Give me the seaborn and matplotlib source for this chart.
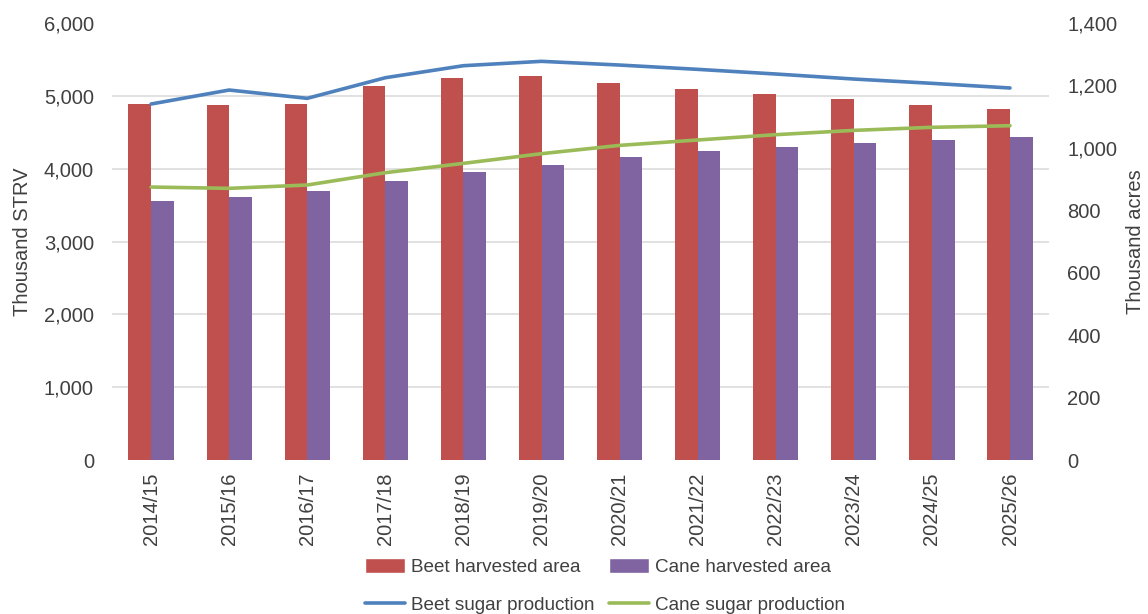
import numpy as np
import pandas as pd
import matplotlib
matplotlib.use("Agg")
import matplotlib.pyplot as plt
from matplotlib.lines import Line2D
from matplotlib.patches import Patch
from matplotlib.ticker import FuncFormatter, MultipleLocator
import seaborn as sns

seasons = ["2014/15", "2015/16", "2016/17", "2017/18", "2018/19", "2019/20",
           "2020/21", "2021/22", "2022/23", "2023/24", "2024/25", "2025/26"]

# Harvested area, thousand acres (right axis)
beet_area = [1141, 1137, 1142, 1199, 1225, 1229, 1208, 1190, 1173, 1156, 1138, 1126]
cane_area = [829, 842, 863, 894, 924, 946, 972, 989, 1003, 1016, 1024, 1034]

# Sugar production, thousand STRV (left axis)
beet_prod = [4888, 5080, 4966, 5249, 5414, 5474, 5423, 5364, 5300, 5231, 5172, 5108]
cane_prod = [3748, 3730, 3776, 3945, 4073, 4206, 4320, 4394, 4467, 4526, 4568, 4590]

RED, PURPLE = "#C0504D", "#8064A2"
BLUE, GREEN = "#4F81BD", "#9BBB59"
TEXT = "#404040"
GRID = "#D9D9D9"
FS = 14.5

sns.set_theme(style="white")
plt.rcParams["font.family"] = ["Liberation Sans", "DejaVu Sans"]
plt.rcParams["text.color"] = TEXT
plt.rcParams["axes.labelcolor"] = TEXT
plt.rcParams["xtick.color"] = TEXT
plt.rcParams["ytick.color"] = TEXT

area_df = pd.DataFrame({
    "Season": seasons * 2,
    "Area": beet_area + cane_area,
    "Series": ["Beet harvested area"] * len(seasons) + ["Cane harvested area"] * len(seasons),
})
prod_df = pd.DataFrame({
    "Season": seasons * 2,
    "Production": beet_prod + cane_prod,
    "Series": ["Beet sugar production"] * len(seasons) + ["Cane sugar production"] * len(seasons),
})

fig = plt.figure(figsize=(11.48, 6.14), dpi=100)
ax_line = fig.add_axes([0.0976, 0.2508, 0.8162, 0.7117])
ax_bar = ax_line.twinx()

# bars on the acres axis, kept behind the production lines
ax_line.set_zorder(2)
ax_line.patch.set_visible(False)

sns.barplot(data=area_df, x="Season", y="Area", hue="Series",
            palette=[RED, PURPLE], width=0.58, gap=0, saturation=1,
            linewidth=0, ax=ax_bar, legend=False, zorder=2)

pos = {s: i for i, s in enumerate(seasons)}
prod_df["x"] = prod_df["Season"].map(pos)
sns.lineplot(data=prod_df, x="x", y="Production", hue="Series",
             palette=[BLUE, GREEN], linewidth=2.6, ax=ax_line, legend=False)

ax_line.set_xlim(-0.5, len(seasons) - 0.5)
ax_bar.set_xlim(-0.5, len(seasons) - 0.5)

ax_line.set_ylim(0, 6000)
ax_bar.set_ylim(0, 1400)
ax_line.yaxis.set_major_locator(MultipleLocator(1000))
ax_bar.yaxis.set_major_locator(MultipleLocator(200))
fmt = FuncFormatter(lambda v, _: f"{v:,.0f}")
ax_line.yaxis.set_major_formatter(fmt)
ax_bar.yaxis.set_major_formatter(fmt)

# horizontal gridlines at the STRV ticks, drawn behind the bars
ax_bar.set_yticks(np.linspace(0, 1400, 7), minor=True)
ax_bar.grid(which="minor", axis="y", color=GRID, linewidth=1.1, zorder=0)
ax_bar.grid(which="major", visible=False)
ax_bar.tick_params(axis="y", which="minor", length=0)
ax_bar.set_axisbelow(True)

ax_line.set_xticks(range(len(seasons)))
ax_line.set_xticklabels(seasons, rotation=90)
ax_bar.tick_params(axis="x", bottom=False, labelbottom=False)

ax_line.tick_params(axis="both", length=0, labelsize=FS)
ax_line.tick_params(axis="y", pad=13)
ax_line.tick_params(axis="x", pad=9)
ax_bar.tick_params(axis="y", length=0, labelsize=FS, pad=13)

ax_line.set_xlabel("")
ax_bar.set_xlabel("")
ax_line.set_ylabel("Thousand STRV", fontsize=FS)
ax_bar.set_ylabel("Thousand acres", fontsize=FS)
ax_line.yaxis.set_label_coords(-0.0855, 0.5)
ax_bar.yaxis.set_label_coords(1.082, 0.5)

for a in (ax_line, ax_bar):
    for sp in a.spines.values():
        sp.set_visible(False)

handles = [
    Patch(facecolor=RED, label="Beet harvested area"),
    Line2D([], [], color=BLUE, linewidth=2.6, label="Beet sugar production"),
    Patch(facecolor=PURPLE, label="Cane harvested area"),
    Line2D([], [], color=GREEN, linewidth=2.6, label="Cane sugar production"),
]
fig.legend(handles=handles, ncol=2, loc="center", bbox_to_anchor=(0.527, 0.045),
           frameon=False, fontsize=13.6, handlelength=2.1, handleheight=0.85,
           handletextpad=0.3, columnspacing=0.8, labelspacing=1.05)

fig.savefig("out.png", dpi=100, facecolor="white")
